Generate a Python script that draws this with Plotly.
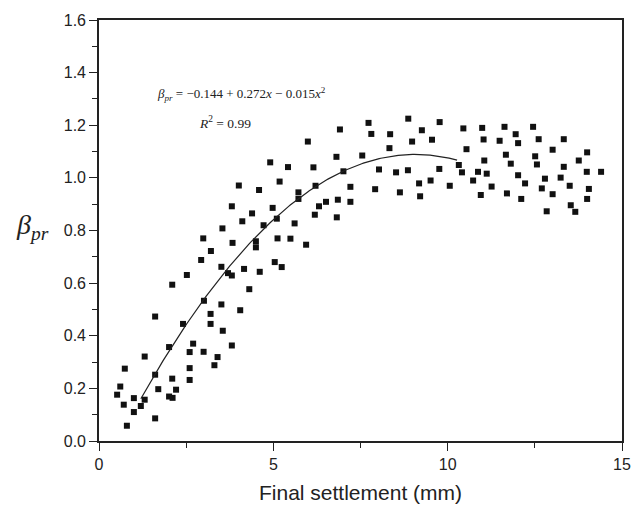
import plotly.graph_objects as go
import numpy as np

# Scatter data
settlement = [0.80, 1.61, 1.00, 1.20, 0.71, 2.11, 2.01, 1.31, 1.00, 0.52, 2.21, 1.70, 0.61, 2.60, 2.10,
              1.61, 2.60, 0.74, 3.31, 3.40, 1.31, 3.81, 3.00, 2.60, 2.01, 2.70, 3.55, 3.20, 3.20, 2.41,
              1.61, 4.05, 3.51, 3.01, 4.31, 2.10, 2.52, 3.81, 3.70, 4.61, 4.16, 5.24, 5.04, 3.51, 2.93,
              3.21, 4.50, 4.50, 3.83, 2.99, 5.12, 5.49, 4.72, 3.54, 4.11, 5.10, 4.39, 4.98, 3.81, 4.59,
              4.01, 5.18, 5.42, 4.91, 5.94, 5.61, 6.19, 6.82, 5.72, 5.72, 6.31, 6.51, 6.85, 7.21, 8.63,
              9.21, 6.21, 7.21, 7.92, 9.18, 9.51, 10.06, 10.73, 6.15, 7.01, 8.03, 8.52, 8.86, 9.76, 10.32,
              10.41, 10.87, 6.81, 7.55, 8.33, 10.54, 5.99, 8.98, 9.55, 6.91, 7.81, 8.35, 9.26, 10.45, 8.87,
              7.73, 9.77, 10.95, 10.99, 11.63, 12.45, 11.95, 11.03, 11.49, 12.02, 12.61, 13.33, 13.01, 14.00,
              11.67, 12.51, 11.05, 11.81, 12.56, 13.76, 11.12, 13.33, 13.99, 14.40, 12.02, 12.79, 13.24, 12.22,
              11.26, 12.70, 13.50, 14.05, 11.70, 13.01, 12.11, 14.00, 13.53, 12.84, 13.66]
beta = [0.058, 0.086, 0.110, 0.133, 0.138, 0.164, 0.169, 0.157, 0.163, 0.176, 0.195, 0.197, 0.207, 0.232, 0.237,
        0.252, 0.277, 0.275, 0.288, 0.319, 0.321, 0.363, 0.339, 0.338, 0.357, 0.370, 0.419, 0.445, 0.483, 0.445,
        0.473, 0.497, 0.519, 0.533, 0.577, 0.594, 0.631, 0.629, 0.638, 0.643, 0.654, 0.661, 0.680, 0.662, 0.688,
        0.722, 0.736, 0.759, 0.753, 0.770, 0.770, 0.769, 0.820, 0.808, 0.835, 0.845, 0.865, 0.886, 0.892, 0.954,
        0.971, 0.986, 1.041, 1.059, 0.746, 0.827, 0.860, 0.850, 0.920, 0.945, 0.892, 0.909, 0.917, 0.909, 0.945,
        0.930, 0.970, 0.966, 0.957, 0.979, 0.990, 0.970, 0.990, 1.040, 1.025, 1.032, 1.021, 1.029, 1.034, 1.049,
        1.021, 1.023, 1.080, 1.085, 1.113, 1.109, 1.138, 1.138, 1.145, 1.184, 1.167, 1.166, 1.181, 1.188, 1.225,
        1.209, 1.212, 0.935, 1.190, 1.194, 1.194, 1.166, 1.146, 1.141, 1.132, 1.147, 1.147, 1.107, 1.097,
        1.088, 1.082, 1.066, 1.054, 1.051, 1.066, 1.016, 1.042, 1.023, 1.023, 1.010, 0.997, 1.001, 0.979,
        0.967, 0.960, 0.970, 0.958, 0.941, 0.938, 0.920, 0.920, 0.896, 0.873, 0.871]

# Fitted curve as printed on the chart: beta = c0 + c1 x + c2 x^2
fit_coeffs = [-0.144, 0.272, -0.015]
fit_range = [1.2, 10.27]
x_ticks = [0, 5, 10, 15]
y_ticks = [0.0, 0.2, 0.4, 0.6, 0.8, 1.0, 1.2, 1.4, 1.6]

xf = np.linspace(fit_range[0], fit_range[1], 200)
yf = fit_coeffs[0] + fit_coeffs[1] * xf + fit_coeffs[2] * xf ** 2

SANS = "Liberation Sans, Arial, sans-serif"
SERIF = "Liberation Serif, Times New Roman, serif"

fig = go.Figure()
fig.add_trace(go.Scatter(x=settlement, y=beta, mode="markers",
                         marker=dict(symbol="square", size=6, color="#111111"),
                         showlegend=False))
fig.add_trace(go.Scatter(x=xf, y=yf, mode="lines",
                         line=dict(color="#222222", width=1.2), showlegend=False))

axis_common = dict(showline=True, linecolor="#222", linewidth=1.6, mirror=True,
                   ticks="outside", ticklen=8, tickwidth=1.4, tickcolor="#222",
                   showgrid=False, zeroline=False, automargin=False,
                   tickfont=dict(family=SANS, size=16, color="#222"))

fig.update_xaxes(range=[0, 15], tickvals=x_ticks, ticktext=[str(v) for v in x_ticks],
                 minor=dict(dtick=2.5, ticks="outside", ticklen=5, tickwidth=1.3, tickcolor="#222"),
                 **axis_common)
fig.update_yaxes(range=[0, 1.6], tickvals=y_ticks, ticktext=[f"{v:.1f}" for v in y_ticks],
                 minor=dict(dtick=0.1, ticks="outside", ticklen=5, tickwidth=1.3, tickcolor="#222"),
                 **axis_common)

# Axis titles
fig.add_annotation(x=0.5, y=0.0, xref="paper", yref="paper", yshift=-51,
                   text="Final settlement (mm)", showarrow=False, xanchor="center", yanchor="middle",
                   font=dict(family=SANS, size=21, color="#222"))
fig.add_annotation(x=0.0, y=0.5, xref="paper", yref="paper", xshift=-48, yshift=4,
                   text="<i>β</i><sub><i>pr</i></sub>", showarrow=False, xanchor="right", yanchor="middle",
                   font=dict(family=SERIF, size=28, color="#222"))

# Fit equation text
fig.add_annotation(x=1.62, y=1.32, xref="x", yref="y", xanchor="left", yanchor="middle",
                   text="<i>β</i><sub><i>pr</i></sub> = −0.144 + 0.272<i>x</i> − 0.015<i>x</i><sup>2</sup>",
                   showarrow=False,
                   font=dict(family=SERIF, size=13, color="#222"))
fig.add_annotation(x=2.8, y=1.21, xref="x", yref="y", xanchor="left", yanchor="middle",
                   text="<i>R</i><sup>2</sup> = 0.99", showarrow=False,
                   font=dict(family=SERIF, size=13.5, color="#222"))

fig.update_layout(width=633, height=505, margin=dict(l=99, r=11, t=20, b=64),
                  plot_bgcolor="white", paper_bgcolor="white")

fig.write_html("out.html")
